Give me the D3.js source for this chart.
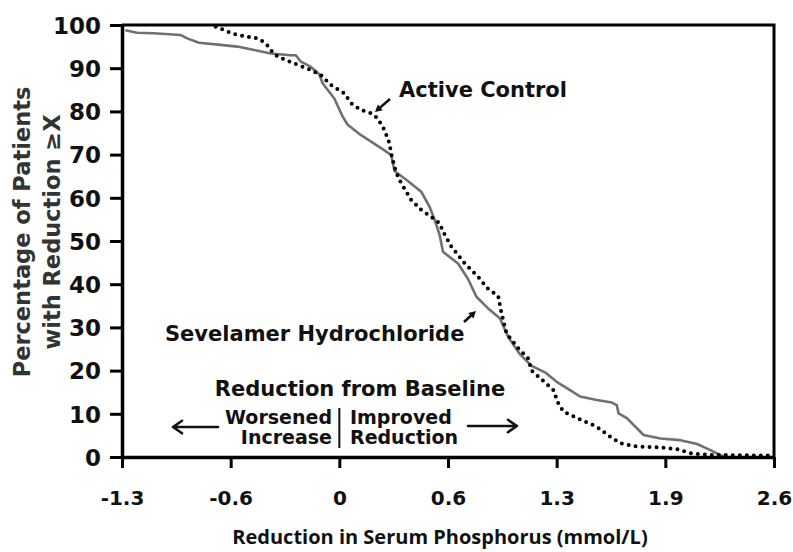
<!DOCTYPE html>
<html>
<head>
<meta charset="utf-8">
<script src="https://cdn.jsdelivr.net/npm/d3@7.8.5/dist/d3.min.js"></script>
<style>
  body { margin: 0; background: #fff; }
  svg { display: block; }
  .ax text { font-family: "DejaVu Sans", sans-serif; font-weight: bold; fill: #111; }
</style>
</head>
<body>
<svg width="793" height="552"></svg>
<script>
// reduction in serum phosphorus (mmol/L) vs % of patients with reduction >= x
const sevelamerX = [-1.28, -1.21, -1.11, -0.95, -0.91, -0.84, -0.71, -0.61, -0.51, -0.41, -0.29, -0.26, -0.23, -0.17, -0.12, -0.10, -0.03, 0.02, 0.05, 0.13, 0.25, 0.31, 0.33, 0.41, 0.49, 0.54, 0.57, 0.60, 0.62, 0.71, 0.77, 0.82, 0.89, 0.96, 1.01, 1.08, 1.15, 1.23, 1.30, 1.38, 1.44, 1.54, 1.63, 1.66, 1.67, 1.72, 1.82, 1.92, 2.04, 2.14, 2.22, 2.28, 2.32];
const sevelamerY = [98.8, 98.2, 98.1, 97.7, 96.9, 95.9, 95.4, 95.0, 94.2, 93.4, 93.0, 93.0, 91.5, 90.3, 88.6, 86.5, 83.0, 78.8, 76.9, 74.5, 71.5, 69.9, 66.2, 63.9, 61.4, 57.9, 54.9, 51.4, 47.5, 44.8, 41.2, 37.1, 34.4, 32.1, 27.8, 23.8, 21.1, 19.6, 17.4, 15.5, 14.0, 13.2, 12.6, 12.0, 10.1, 9.0, 5.1, 4.3, 3.9, 3.0, 1.6, 0.4, 0];

const activeX = [-0.74, -0.70, -0.63, -0.55, -0.49, -0.44, -0.41, -0.37, -0.27, -0.17, -0.11, -0.05, 0.03, 0.07, 0.13, 0.19, 0.23, 0.27, 0.30, 0.31, 0.33, 0.35, 0.37, 0.43, 0.49, 0.55, 0.60, 0.62, 0.67, 0.75, 0.83, 0.89, 0.95, 0.97, 1.00, 1.07, 1.13, 1.15, 1.22, 1.28, 1.31, 1.34, 1.43, 1.54, 1.62, 1.68, 1.76, 1.92, 2.02, 2.10, 2.20, 2.60];
const activeY = [99.6, 99.0, 97.9, 97.3, 96.9, 95.8, 94.2, 92.7, 91.1, 89.6, 88.4, 86.1, 84.2, 81.9, 80.3, 79.6, 78.4, 75.7, 72.6, 70.3, 67.2, 64.9, 63.4, 59.5, 57.2, 55.6, 54.1, 52.2, 48.7, 44.8, 41.7, 38.9, 37.3, 33.3, 28.6, 25.2, 22.8, 20.0, 17.6, 15.5, 12.4, 10.5, 8.9, 7.0, 4.7, 3.2, 2.5, 2.2, 1.8, 0.9, 0.5, 0.3];

const xTicks = [-1.3, -0.65, 0, 0.65, 1.3, 1.95, 2.6];
const xTickLabels = ["-1.3", "-0.6", "0", "0.6", "1.3", "1.9", "2.6"];
const yTicks = [0, 10, 20, 30, 40, 50, 60, 70, 80, 90, 100];

const margin = { left: 122, right: 19, top: 25, bottom: 95 };
const width = 793, height = 552;

const svg = d3.select("svg");
svg.append("rect").attr("width", width).attr("height", height).attr("fill", "#fff");

const x = d3.scaleLinear().domain([-1.3, 2.6]).range([margin.left, width - margin.right]);
const y = d3.scaleLinear().domain([0, 100]).range([height - margin.bottom, margin.top]);

const sevelamer = sevelamerX.map((v, i) => [v, sevelamerY[i]]);
const active = activeX.map((v, i) => [v, activeY[i]]);

const line = d3.line().x((d) => x(d[0])).y((d) => y(d[1]));

// curves
svg.append("path")
  .datum(sevelamer)
  .attr("d", line)
  .attr("fill", "none")
  .attr("stroke", "#707070")
  .attr("stroke-width", 2.6)
  .attr("stroke-linejoin", "round");

svg.append("path")
  .datum(active)
  .attr("d", line)
  .attr("fill", "none")
  .attr("stroke", "#000")
  .attr("stroke-width", 4)
  .attr("stroke-linecap", "round")
  .attr("stroke-dasharray", "0 7");

// box (top + right)
svg.append("path")
  .attr("d", `M${x(-1.3)},${y(100)}H${x(2.6)}V${y(0)}`)
  .attr("fill", "none")
  .attr("stroke", "#000")
  .attr("stroke-width", 3);

// axes
const yAxis = svg.append("g")
  .attr("class", "ax")
  .attr("transform", `translate(${x(-1.3)},0)`)
  .call(d3.axisLeft(y).tickValues(yTicks).tickSize(12).tickPadding(9).tickSizeOuter(0));
yAxis.select(".domain").attr("stroke-width", 3.5);
yAxis.selectAll(".tick line").attr("stroke-width", 3);
yAxis.selectAll(".tick text").attr("font-size", 23).attr("dy", "0.36em");

const xAxis = svg.append("g")
  .attr("class", "ax")
  .attr("transform", `translate(0,${y(0)})`)
  .call(d3.axisBottom(x).tickValues(xTicks).tickFormat((d, i) => xTickLabels[i]).tickSize(11).tickPadding(23).tickSizeOuter(0));
xAxis.select(".domain").attr("stroke-width", 3.5);
xAxis.selectAll(".tick line").attr("stroke-width", 3);
xAxis.selectAll(".tick text")
  .attr("font-family", "'Open Sans', sans-serif")
  .attr("font-weight", 700)
  .attr("font-size", 20);

// axis titles
const yt = svg.append("g")
  .attr("transform", `translate(0,232) rotate(-90)`)
  .attr("font-family", "DejaVu Sans, sans-serif")
  .attr("font-weight", "bold")
  .attr("font-size", 22.5)
  .attr("fill", "#333")
  .attr("text-anchor", "middle");
yt.append("text").attr("x", 0).attr("y", 30).text("Percentage of Patients");
yt.append("text").attr("x", 0).attr("y", 60).text("with Reduction \u2265X");

svg.append("text")
  .attr("x", 440)
  .attr("y", 544)
  .attr("text-anchor", "middle")
  .attr("font-family", "'Open Sans', sans-serif")
  .attr("font-weight", 700)
  .attr("font-size", 20)
  .attr("fill", "#111")
  .text("Reduction in Serum Phosphorus (mmol/L)");

// annotations
const ann = svg.append("g")
  .attr("font-family", "DejaVu Sans, sans-serif")
  .attr("font-weight", "bold")
  .attr("fill", "#111");

ann.append("text").attr("x", 399).attr("y", 97).attr("font-size", 21).text("Active Control");
ann.append("text").attr("x", 165).attr("y", 341).attr("font-size", 21).text("Sevelamer Hydrochloride");
ann.append("text").attr("x", 360).attr("y", 396).attr("font-size", 21).attr("text-anchor", "middle").text("Reduction from Baseline");
ann.append("text").attr("x", 332).attr("y", 424).attr("font-size", 19).attr("text-anchor", "end").text("Worsened");
ann.append("text").attr("x", 332).attr("y", 444).attr("font-size", 19).attr("text-anchor", "end").text("Increase");
ann.append("text").attr("x", 350).attr("y", 424).attr("font-size", 19).text("Improved");
ann.append("text").attr("x", 350).attr("y", 444).attr("font-size", 19).text("Reduction");

// separator
svg.append("line")
  .attr("x1", x(0)).attr("x2", x(0))
  .attr("y1", 408).attr("y2", 448)
  .attr("stroke", "#111").attr("stroke-width", 2);

// arrow helpers
function openArrow(x1, y1, x2, y2) {
  const a = Math.atan2(y2 - y1, x2 - x1);
  const L = 11, w = 0.6;
  const p1 = [x2 - L * Math.cos(a - w), y2 - L * Math.sin(a - w)];
  const p2 = [x2 - L * Math.cos(a + w), y2 - L * Math.sin(a + w)];
  svg.append("path")
    .attr("d", `M${x1},${y1}L${x2},${y2}M${p1}L${x2},${y2}L${p2}`)
    .attr("fill", "none")
    .attr("stroke", "#111")
    .attr("stroke-width", 2.6)
    .attr("stroke-linecap", "round")
    .attr("stroke-linejoin", "round");
}
function solidArrow(x1, y1, x2, y2) {
  const a = Math.atan2(y2 - y1, x2 - x1);
  const L = 8, w = 0.5;
  const p1 = [x2 - L * Math.cos(a - w), y2 - L * Math.sin(a - w)];
  const p2 = [x2 - L * Math.cos(a + w), y2 - L * Math.sin(a + w)];
  svg.append("line")
    .attr("x1", x1).attr("y1", y1)
    .attr("x2", x2 - 4 * Math.cos(a)).attr("y2", y2 - 4 * Math.sin(a))
    .attr("stroke", "#111").attr("stroke-width", 2.6);
  svg.append("path")
    .attr("d", `M${x2},${y2}L${p1}L${p2}Z`)
    .attr("fill", "#111");
}

openArrow(218, 427, 173, 427);
openArrow(468, 426, 517, 426);
solidArrow(390, 99, 375, 112);
solidArrow(464, 322, 476, 311);
</script>
</body>
</html>
